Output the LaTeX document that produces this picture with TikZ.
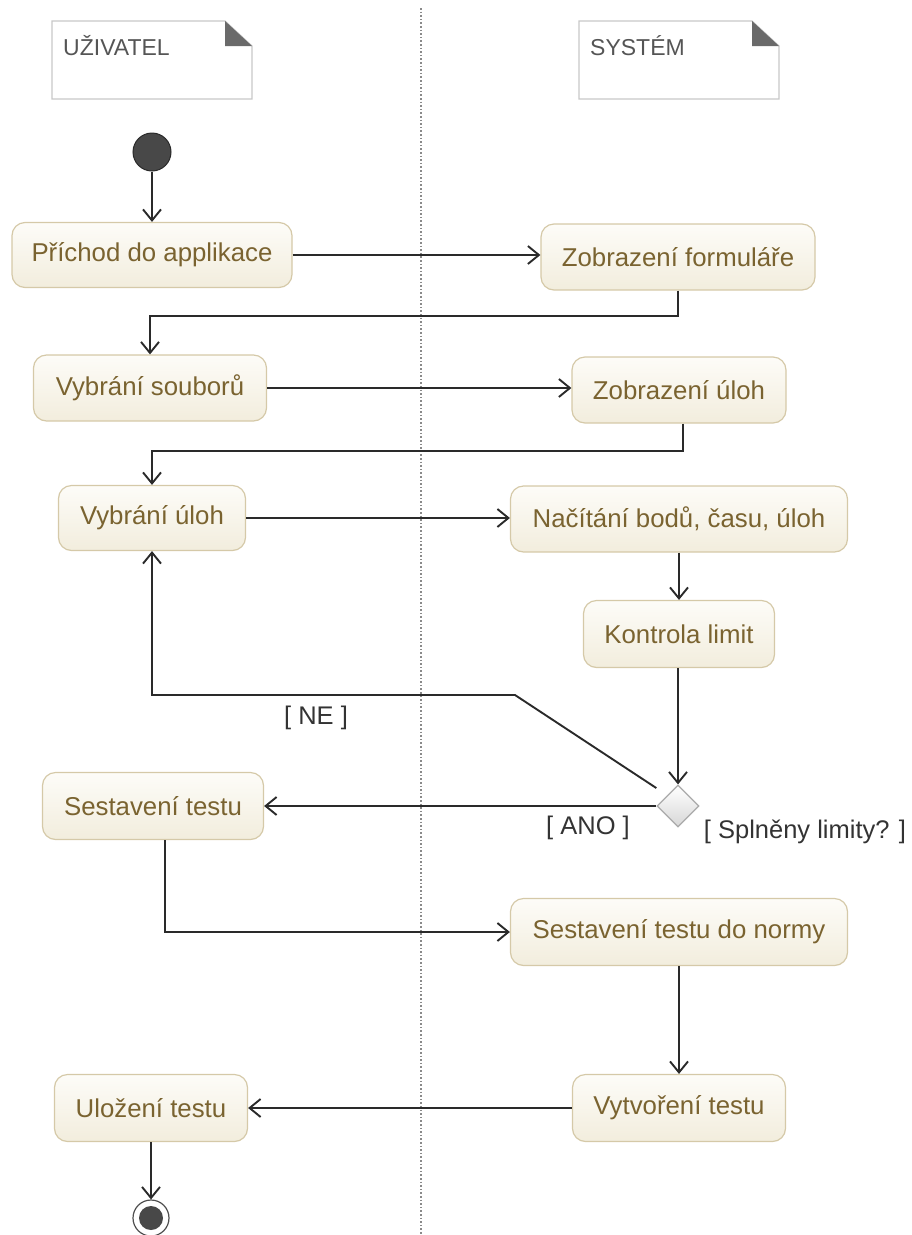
\documentclass[tikz,border=0pt]{standalone}
\usepackage{fontspec}
\setmainfont{Liberation Sans}
\usetikzlibrary{arrows.meta,shapes.geometric,calc}

\definecolor{boxtop}{HTML}{FDFCF8}
\definecolor{boxbot}{HTML}{F2EDDD}
\definecolor{boxdraw}{HTML}{D5C9A8}
\definecolor{boxtext}{HTML}{7A6330}
\definecolor{linecol}{HTML}{2A2A2A}
\definecolor{notedraw}{HTML}{C8C8C8}
\definecolor{notetext}{HTML}{555555}
\definecolor{fold}{HTML}{6A6A6A}
\definecolor{lbl}{HTML}{333333}
\definecolor{dotcol}{HTML}{8A8A8A}
\definecolor{dotfill}{HTML}{484848}
\definecolor{enddraw}{HTML}{505050}
\definecolor{diadraw}{HTML}{AAAAAA}
\definecolor{diabot}{HTML}{D7D7D7}

\begin{document}
\begin{tikzpicture}[x=1pt,y=-1pt,
  act/.style={draw=boxdraw, line width=1.2pt, rounded corners=13pt,
    top color=boxtop, bottom color=boxbot, text=boxtext,
    font=\fontsize{25.8}{30}\selectfont, inner sep=0pt, anchor=center},
  flow/.style={draw=linecol, line width=1.9pt,
    -{Straight Barb[length=11pt,width=18pt,line width=1.9pt]}},
  guard/.style={text=lbl, font=\fontsize{25.5}{30}\selectfont, inner sep=0pt},
  notelbl/.style={text=notetext, font=\fontsize{23}{26}\selectfont, inner sep=0pt, anchor=west}
]
\useasboundingbox (0,0) rectangle (911,1235);

% swimlane separator
\draw[dotcol, line width=1.6pt, dotted] (421,8) -- (421,1235);

% notes
\draw[notedraw, line width=1.2pt, fill=white] (52,21) -- (225,21) -- (252,46) -- (252,99) -- (52,99) -- cycle;
\fill[fold] (225,21) -- (225,46) -- (252,46) -- cycle;
\node[notelbl] (n1) at (63,46) {UŽIVATEL};
\draw[notedraw, line width=1.2pt, fill=white] (579,21) -- (752,21) -- (779,46) -- (779,99) -- (579,99) -- cycle;
\fill[fold] (752,21) -- (752,46) -- (779,46) -- cycle;
\node[notelbl] (n2) at (590,46) {SYSTÉM};

% start / end
\node[circle, draw=linecol, line width=1pt, fill=dotfill, minimum size=38pt, inner sep=0pt] (start) at (152,152) {};
\node[circle, draw=enddraw, line width=1.2pt, fill=white, minimum size=36pt, inner sep=0pt] (end) at (151,1218) {};
\fill[dotfill] (end.center) circle (12pt);

% activities
\node[act, minimum width=280pt, minimum height=65pt] (a1) at (152,255) {Příchod do applikace};
\node[act, minimum width=274pt, minimum height=66pt] (a2) at (678,257) {Zobrazení formuláře};
\node[act, minimum width=233pt, minimum height=66pt] (a3) at (150,388) {Vybrání souborů};
\node[act, minimum width=214pt, minimum height=66pt] (a4) at (679,390) {Zobrazení úloh};
\node[act, minimum width=187pt, minimum height=65pt] (a5) at (152,518) {Vybrání úloh};
\node[act, minimum width=337pt, minimum height=66pt] (a6) at (679,519) {Načítání bodů, času, úloh};
\node[act, minimum width=191pt, minimum height=67pt] (a7) at (679,634) {Kontrola limit};
\node[diamond, draw=diadraw, line width=1.2pt, top color=white, bottom color=diabot, minimum size=42pt, inner sep=0pt] (d) at (678,806) {};
\node[act, minimum width=221pt, minimum height=67pt] (a8) at (153,806) {Sestavení testu};
\node[act, minimum width=337pt, minimum height=67pt] (a9) at (679,932) {Sestavení testu do normy};
\node[act, minimum width=213pt, minimum height=67pt] (a10) at (679,1108) {Vytvoření testu};
\node[act, minimum width=193pt, minimum height=67pt] (a11) at (151,1108) {Uložení testu};

% guards
\node[guard] (gne) at (316,718) {[ NE ]};
\node[guard] (gano) at (588,828) {[ ANO ]};
\node[guard] (gq) at (805,832) {[ Splněny limity? ]};

% connectors
\draw[flow] (start) -- (a1);
\draw[flow] (a1.east) -- (a1.east -| a2.west);
\draw[flow] (a2.south) -- ++(0,25) -| (a3.north);
\draw[flow] (a3.east) -- (a3.east -| a4.west);
\draw[flow] ($(a4.south)+(4,0)$) -- ++(0,27) -| (a5.north);
\draw[flow] (a5.east) -- (a5.east -| a6.west);
\draw[flow] (a6) -- (a7);
\draw[flow] (d.north |- a7.south) -- (d.north);
\coordinate (bend) at (515,695);
\draw[flow, shorten <=13pt] (d.north west) -- (bend) -| (a5.south);
\draw[flow] (d.west) -- (a8.east);
\draw[flow] ($(a8.south)+(12,0)$) |- (a9.west);
\draw[flow] (a9) -- (a10);
\draw[flow] (a10) -- (a11);
\draw[flow] (a11) -- (end);
\end{tikzpicture}
\end{document}
